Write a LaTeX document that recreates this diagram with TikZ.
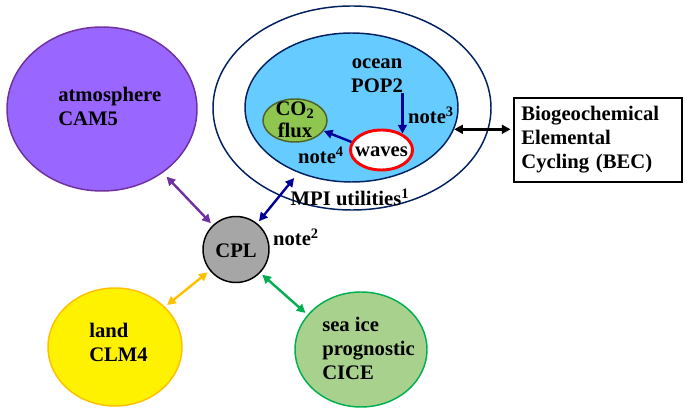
\documentclass[tikz,border=0pt]{standalone}
\usepackage{fontspec}
\setmainfont{Liberation Serif}
\usetikzlibrary{shapes.geometric,arrows.meta}

\definecolor{atmfill}{HTML}{9966FF}
\definecolor{atmline}{HTML}{7030A0}
\definecolor{oceanfill}{HTML}{66CCFF}
\definecolor{navyline}{HTML}{002060}
\definecolor{arrowblue}{HTML}{000099}
\definecolor{cofill}{HTML}{8FC650}
\definecolor{coline}{HTML}{4F6228}
\definecolor{cplfill}{HTML}{A6A6A6}
\definecolor{landline}{HTML}{FFC000}
\definecolor{icefill}{HTML}{A9D18E}
\definecolor{iceline}{HTML}{00B050}

\begin{document}
\begin{tikzpicture}[x=0.75pt, y=-0.75pt,
	every node/.style={font=\fontsize{15.5}{18}\selectfont\bfseries},
	comp/.style={ellipse, inner sep=0pt, line width=1.1pt},
	lbl/.style={align=left, inner sep=0pt},
	link/.style={<->, line width=1.8pt, shorten <=2pt, shorten >=2pt},
	>={Triangle[length=6.5pt, width=6.5pt]}]
	\useasboundingbox (0,0) rectangle (689,416);

	% components
	\node[comp, draw=atmline, fill=atmfill, minimum width=142.5pt, minimum height=123pt] (atm) at (102,109) {};
	\node[comp, draw=navyline, fill=white, minimum width=208.5pt, minimum height=153pt] (shell) at (352,108) {};
	\node[comp, draw=navyline, fill=oceanfill, minimum width=159.75pt, minimum height=111.75pt] (ocean) at (351.5,107.5) {};
	\node[comp, draw=coline, fill=cofill, minimum width=48pt, minimum height=32.25pt] (co2) at (295,120.5) {};
	\node[comp, draw=red, fill=white, line width=2.2pt, minimum width=46.5pt, minimum height=30pt] (waves) at (381.5,150) {};
	\node[circle, draw=black, fill=cplfill, line width=1.1pt, inner sep=0pt, minimum size=49.5pt] (cpl) at (236,249.5) {};
	\node[comp, draw=landline, fill=yellow, minimum width=100.5pt, minimum height=88.5pt] (land) at (115,347) {};
	\node[comp, draw=iceline, fill=icefill, minimum width=99pt, minimum height=86.25pt] (ice) at (361,349.5) {};
	\node[draw=black, line width=1.1pt, align=left, inner xsep=5pt, text width=115pt, minimum width=126pt, minimum height=63pt] (bec) at (598,140) {Biogeochemical\\Elemental\\Cycling (BEC)};

	% texts
	\node[lbl, anchor=west] (atmtxt) at (58,106) {atmosphere\\CAM5};
	\node[lbl, align=center] (oceantxt) at (377,76) {ocean\\POP2};
	\node[lbl, align=center, font=\fontsize{15.5}{16.5}\selectfont\bfseries] (cotxt) at (295,120) {CO\textsubscript{2}\\flux};
	\node[lbl] (wavestxt) at (381.5,152) {waves};
	\node[lbl] (note3) at (431,115) {note\textsuperscript{3}};
	\node[lbl] (note4) at (321,155) {note\textsuperscript{4}};
	\node[lbl] (mpi) at (350,197) {MPI utilities\textsuperscript{1}};
	\node[lbl] (cpltxt) at (236,251) {CPL};
	\node[lbl] (note2) at (296,237) {note\textsuperscript{2}};
	\node[lbl, anchor=west] (landtxt) at (89,342) {land\\CLM4};
	\node[lbl, anchor=west] (icetxt) at (322,348) {sea ice\\prognostic\\CICE};

	% couplings
	\draw[link, atmline, shorten <=4pt] (atm) -- (cpl);
	\draw[link, landline] (land) -- (cpl);
	\draw[link, iceline] (cpl.-44) -- (ice.147);
	\draw[link, arrowblue, shorten >=5pt] (cpl) -- (ocean);
	\draw[link, black, shorten <=0pt] (ocean.-12.5) -- (ocean.-12.5 -| bec.west);
	\draw[->, arrowblue, line width=1.8pt] (waves.38 |- oceantxt.south) -- (waves.38);
	\draw[->, arrowblue, line width=1.8pt] (waves.165) -- (co2.-20);
\end{tikzpicture}
\end{document}
